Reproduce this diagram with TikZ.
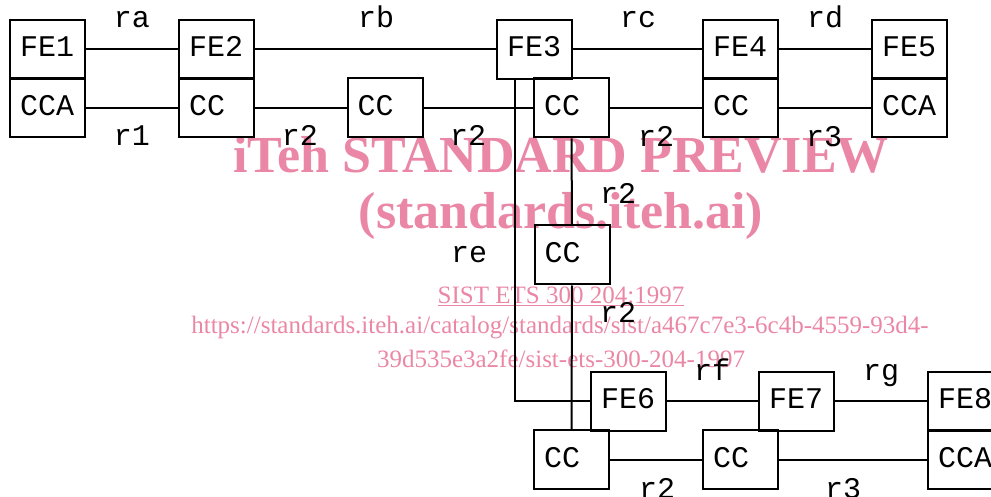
\documentclass[tikz,border=0pt]{standalone}
\usepackage{fontspec}
\setmainfont{Liberation Serif}
\newfontfamily\monofont{Liberation Mono}
\definecolor{wm}{RGB}{235,135,166}
\begin{document}
\begin{tikzpicture}[x=1pt,y=-1pt,
  box/.style={draw, line width=2pt, minimum width=75pt, minimum height=59pt,
    inner xsep=10pt, inner ysep=0pt, text width=55pt, align=left,
    text height=15pt, text depth=0pt, font=\monofont\fontsize{30}{30}\selectfont},
  lnk/.style={line width=2pt},
  lab/.style={anchor=base, inner sep=0pt, font=\monofont\fontsize{30}{30}\selectfont},
  wmk/.style={text=wm, inner sep=0pt, anchor=base}
]
\useasboundingbox (0,0) rectangle (991,497);
\clip (0,0) rectangle (991,497);
% watermark
\node[wmk, font=\bfseries\fontsize{52}{52}\selectfont] (w1) at (561,173) {iTeh STANDARD PREVIEW};
\node[wmk, font=\bfseries\fontsize{52}{52}\selectfont] (w2) at (561,229) {(standards.iteh.ai)};
\node[wmk, font=\fontsize{25}{25}\selectfont] (w3) at (561,303) {\underline{SIST ETS 300 204:1997}};
\node[wmk, font=\fontsize{25}{25}\selectfont] (w4) at (560,333) {https://standards.iteh.ai/catalog/standards/sist/a467c7e3-6c4b-4559-93d4-};
\node[wmk, font=\fontsize{25}{25}\selectfont] (w5) at (561,367) {39d535e3a2fe/sist-ets-300-204-1997};
% boxes
\node[box] (fe1) at (47.5,49.5) {FE1};
\node[box] (cca1) at (47.5,108) {CCA};
\node[box] (fe2) at (216.5,49.5) {FE2};
\node[box] (cc2) at (216.5,108) {CC};
\node[box] (ccm) at (385,108) {CC};
\node[box] (fe3) at (534.5,49.5) {FE3};
\node[box] (cc3) at (571.5,108) {CC};
\node[box] (fe4) at (740.5,49.5) {FE4};
\node[box] (cc4) at (740.5,108) {CC};
\node[box] (fe5) at (909.5,49.5) {FE5};
\node[box] (cca5) at (909.5,108) {CCA};
\node[box] (ccv) at (572,255) {CC};
\node[box] (fe6) at (628.5,401) {FE6};
\node[box] (cc6) at (571.5,459.5) {CC};
\node[box] (fe7) at (796.5,401) {FE7};
\node[box] (cc7) at (740.5,459.5) {CC};
\node[box] (fe8) at (965.5,401) {FE8};
\node[box] (cca8) at (965.5,459.5) {CCA};
% connectors
\draw[lnk] (fe1.east) -- (fe2.west);
\draw[lnk] (fe2.east) -- (fe3.west);
\draw[lnk] (fe3.east) -- (fe4.west);
\draw[lnk] (fe4.east) -- (fe5.west);
\draw[lnk] (cca1.east) -- (cc2.west);
\draw[lnk] (cc2.east) -- (ccm.west);
\draw[lnk] (ccm.east) -- (cc3.west);
\draw[lnk] (cc3.east) -- (cc4.west);
\draw[lnk] (cc4.east) -- (cca5.west);
\draw[lnk] (cc3.south) -- (ccv.north);
\draw[lnk] (ccv.south) -- (cc6.north);
\draw[lnk] (fe3.south west) ++(19,0) |- (fe6.west);
\draw[lnk] (fe6.east) -- (fe7.west);
\draw[lnk] (fe7.east) -- (fe8.west);
\draw[lnk] (cc6.east) -- (cc7.west);
\draw[lnk] (cc7.east) -- (cca8.west);
% labels
\node[lab] (lra) at (132,28) {ra};
\node[lab] (lrb) at (376,28) {rb};
\node[lab] (lrc) at (638,28) {rc};
\node[lab] (lrd) at (825,28) {rd};
\node[lab] (lr1) at (132,146) {r1};
\node[lab] (lr2a) at (300,146) {r2};
\node[lab] (lr2b) at (468,146) {r2};
\node[lab] (lr2c) at (656,147) {r2};
\node[lab] (lr3a) at (824,147) {r3};
\node[lab] (lr2d) at (618,204) {r2};
\node[lab] (lre) at (469,262) {re};
\node[lab] (lr2e) at (618,322) {r2};
\node[lab] (lrf) at (712,380) {rf};
\node[lab] (lrg) at (881,380) {rg};
\node[lab] (lr2f) at (657,498) {r2};
\node[lab] (lr3b) at (843,498) {r3};
\end{tikzpicture}
\end{document}
